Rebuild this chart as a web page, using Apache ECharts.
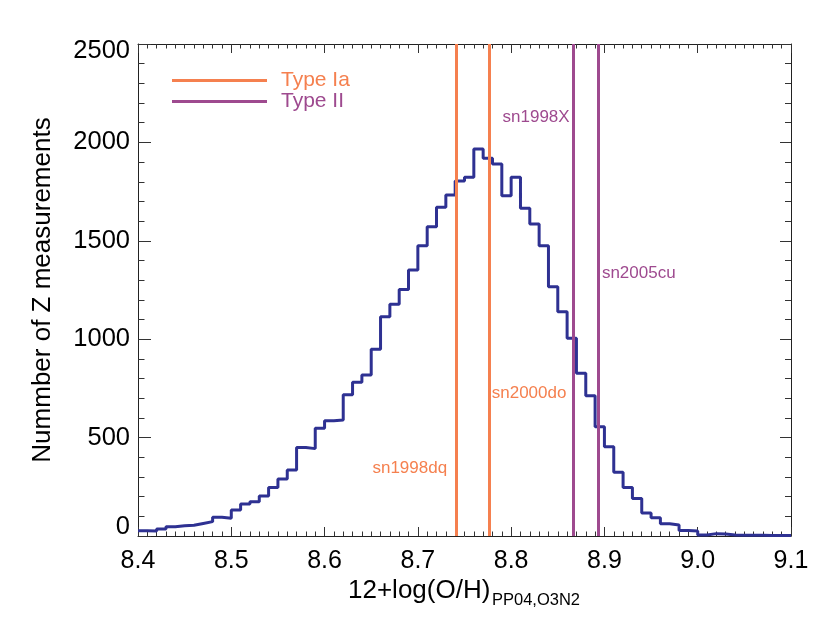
<!DOCTYPE html>
<html>
<head>
<meta charset="utf-8">
<script src="https://cdn.jsdelivr.net/npm/echarts@6/dist/echarts.min.js"></script>
<style>
  html, body { margin: 0; padding: 0; background: #fff; }
  #chart { width: 830px; height: 624px; }
</style>
</head>
<body>
<div id="chart"></div>
<script>
// histogram bins: 0.01 wide, starting at 8.40
const binStart = 8.40;
const binWidth = 0.01;
const counts = [
  27, 25, 36, 47, 52, 55, 64, 73, 95, 90,
  132, 163, 174, 203, 247, 290, 335, 450, 444, 547,
  586, 589, 718, 781, 818, 949, 1114, 1177, 1253, 1352,
  1475, 1572, 1670, 1733, 1804, 1823, 1966, 1919, 1890, 1729,
  1823, 1665, 1585, 1475, 1267, 1140, 1005, 827, 713, 555,
  454, 324, 246, 191, 117, 93, 62, 56, 28, 26,
  5, 12, 10, 5, 4, 4, 4, 3, 3, 3
];

const typeIaNames = ['sn1998dq', 'sn2000do'];
const typeIaZ = [8.741, 8.776];
const typeIaLabelY = [345, 727];

const typeIINames = ['sn1998X', 'sn2005cu'];
const typeIIZ = [8.867, 8.893];
const typeIILabelY = [2129, 1336];

const xTicks = ['8.4', '8.5', '8.6', '8.7', '8.8', '8.9', '9.0', '9.1'];
const yTicks = [0, 500, 1000, 1500, 2000, 2500];

const navy = '#2E3192';
const orange = '#F5804F';
const purple = '#9E4A8F';
const font = 'Liberation Sans';

const chart = echarts.init(document.getElementById('chart'), null, { renderer: 'canvas' });

const histData = counts.map((c, i) => [+(binStart + i * binWidth).toFixed(2), c]);
histData.push([+(binStart + counts.length * binWidth).toFixed(2), counts[counts.length - 1]]);

function tickLine(len) {
  return { show: true, inside: true, length: len, lineStyle: { color: '#333', width: 1 } };
}
function minorLine(len, n) {
  return { show: true, splitNumber: n, length: len, lineStyle: { color: '#333', width: 1 } };
}

// label sits left or right of its line, at a given gap
function snMarkers(names, zs, ys, side, gap) {
  return names.map((n, i) => ({
    name: n,
    coord: [zs[i], ys[i]],
    label: { position: side[i], distance: gap[i] }
  }));
}

const xMin = Number(xTicks[0]);
const xMax = Number(xTicks[xTicks.length - 1]);

chart.setOption({
  animation: false,
  textStyle: { fontFamily: font },
  grid: { left: 138, right: 39, top: 44, bottom: 88 },
  legend: {
    orient: 'vertical',
    left: 172,
    top: 70,
    padding: 0,
    itemWidth: 95,
    itemHeight: 3,
    itemGap: 0,
    icon: 'rect',
    textStyle: { fontSize: 21, padding: [0, 0, 0, 9], lineHeight: 21 },
    data: [
      { name: 'Type Ia', textStyle: { color: orange } },
      { name: 'Type II', textStyle: { color: purple } }
    ]
  },
  xAxis: [
    {
      type: 'value', min: xMin, max: xMax, interval: 0.1,
      axisLine: { show: true, onZero: false, lineStyle: { color: '#222', width: 1 } },
      axisTick: tickLine(9),
      minorTick: minorLine(4.5, 10),
      splitLine: { show: false },
      axisLabel: {
        fontSize: 25, color: '#000', margin: 13,
        formatter: v => v.toFixed(1)
      }
    },
    {
      type: 'value', position: 'top', min: xMin, max: xMax, interval: 0.1,
      axisLine: { show: true, onZero: false, lineStyle: { color: '#222', width: 1 } },
      axisTick: tickLine(9),
      minorTick: minorLine(4.5, 10),
      splitLine: { show: false },
      axisLabel: { show: false }
    }
  ],
  yAxis: [
    {
      type: 'value', min: yTicks[0], max: yTicks[yTicks.length - 1], interval: 500,
      name: 'Nummber of Z measurements',
      nameLocation: 'middle',
      nameGap: 82,
      nameTextStyle: { fontSize: 26, color: '#000' },
      axisLine: { show: true, onZero: false, lineStyle: { color: '#222', width: 1 } },
      axisTick: tickLine(13),
      minorTick: minorLine(6.5, 5),
      splitLine: { show: false },
      axisLabel: {
        fontSize: 25.5, color: '#000', margin: 8,
        formatter: v => {
          if (v === yTicks[yTicks.length - 1]) return '{top|' + v + '}';
          if (v === yTicks[0]) return '{bot|' + v + '}';
          return String(v);
        },
        rich: {
          top: { fontSize: 25.5, padding: [14, 0, 0, 0] },
          bot: { fontSize: 25.5, padding: [0, 0, 18, 0] }
        }
      }
    },
    {
      type: 'value', position: 'right', min: yTicks[0], max: yTicks[yTicks.length - 1], interval: 500,
      axisLine: { show: true, onZero: false, lineStyle: { color: '#222', width: 1 } },
      axisTick: tickLine(11),
      minorTick: minorLine(6, 5),
      splitLine: { show: false },
      axisLabel: { show: false }
    }
  ],
  series: [
    {
      name: 'hist',
      type: 'line',
      step: 'end',
      showSymbol: false,
      data: histData,
      lineStyle: { color: navy, width: 3 },
      itemStyle: { color: navy },
      z: 3
    },
    {
      name: 'Type Ia',
      type: 'line',
      data: [],
      itemStyle: { color: orange },
      lineStyle: { color: orange, width: 3 },
      markLine: {
        silent: true,
        symbol: 'none',
        precision: 4,
        label: { show: false },
        lineStyle: { color: orange, width: 3, type: 'solid' },
        data: typeIaZ.map(z => ({ xAxis: z }))
      },
      markPoint: {
        symbol: 'circle',
        symbolSize: 0,
        label: { show: true, formatter: '{b}', color: orange, fontSize: 17 },
        data: snMarkers(typeIaNames, typeIaZ, typeIaLabelY, ['left', 'right'], [9, 3])
      }
    },
    {
      name: 'Type II',
      type: 'line',
      data: [],
      itemStyle: { color: purple },
      lineStyle: { color: purple, width: 3 },
      markLine: {
        silent: true,
        symbol: 'none',
        precision: 4,
        label: { show: false },
        lineStyle: { color: purple, width: 3, type: 'solid' },
        data: typeIIZ.map(z => ({ xAxis: z }))
      },
      markPoint: {
        symbol: 'circle',
        symbolSize: 0,
        label: { show: true, formatter: '{b}', color: purple, fontSize: 17 },
        data: snMarkers(typeIINames, typeIIZ, typeIILabelY, ['left', 'right'], [4, 4])
      }
    }
  ],
  graphic: [
    {
      type: 'text', left: 348, top: 578,
      style: { text: '12+log(O/H)', font: '26px "Liberation Sans"', fill: '#000' }
    },
    {
      type: 'text', left: 492, top: 592,
      style: { text: 'PP04,O3N2', font: '16.5px "Liberation Sans"', fill: '#000' }
    }
  ]
});
</script>
</body>
</html>
